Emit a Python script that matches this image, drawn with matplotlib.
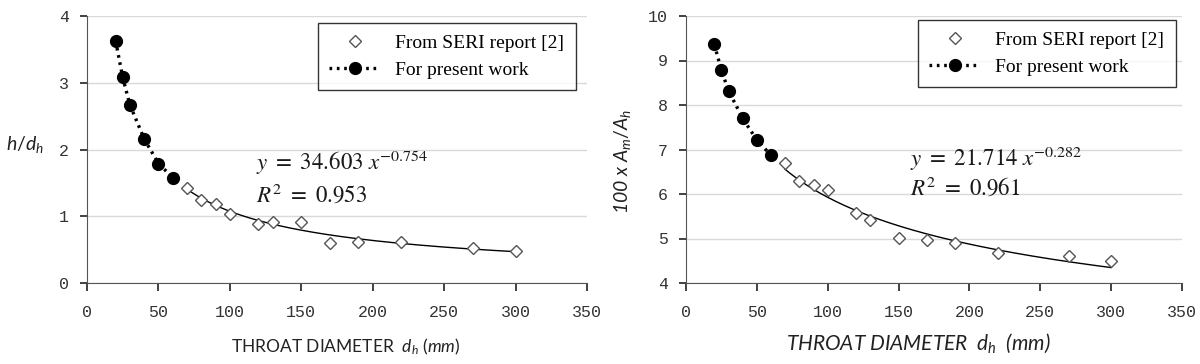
import numpy as np
import matplotlib
matplotlib.use("Agg")
import matplotlib.pyplot as plt

# ---- data ----
dh_present = [20, 25, 30, 40, 50, 60]
dh_seri = [70, 80, 90, 100, 120, 130, 150, 170, 190, 220, 270, 300]

h_present = [3.63, 3.08, 2.67, 2.16, 1.79, 1.58]
h_seri = [1.43, 1.25, 1.18, 1.03, 0.89, 0.92, 0.92, 0.60, 0.62, 0.62, 0.52, 0.48]

am_present = [9.36, 8.78, 8.32, 7.70, 7.21, 6.87]
am_seri = [6.70, 6.29, 6.21, 6.10, 5.58, 5.41, 5.01, 4.96, 4.91, 4.68, 4.61, 4.49]

# power-law trend lines as printed on the chart
h_fit = (34.603, -0.754, 0.953)
am_fit = (21.714, -0.282, 0.961)
fit_range = (70, 300)

# labels use a sans italic for d_h, the equations use a serif math font
plt.rcParams['mathtext.fontset'] = 'custom'
plt.rcParams['mathtext.it'] = 'Lato:italic'
plt.rcParams['mathtext.rm'] = 'Lato'

fig = plt.figure(figsize=(12, 3.64), dpi=100)
ax1 = fig.add_axes([87 / 1200, 81 / 364, 500 / 1200, 267 / 364])
ax2 = fig.add_axes([686 / 1200, 81 / 364, 496 / 1200, 267 / 364])


def draw_panel(ax, y_present, y_seri, fit, ylim, yticks, leg_anchor, eq_pos):
    a, b, r2 = fit
    xs = np.linspace(fit_range[0], fit_range[1], 200)
    ax.plot(xs, a * xs ** b, color='black', lw=1.0, zorder=2)
    ax.plot(dh_seri, y_seri, linestyle='none', marker='D', markersize=6.5,
            markerfacecolor='white', markeredgecolor='#555555',
            markeredgewidth=1.0, label='From SERI report [2]', zorder=3)
    ax.plot(dh_present, y_present, linestyle=(0, (0.8, 1.4)), lw=2.4,
            color='black', marker='o', markersize=8.5,
            label='For present work', zorder=4)

    ax.set_xlim(0, 350)
    ax.set_ylim(*ylim)
    ax.set_xticks(range(0, 351, 50))
    ax.set_yticks(yticks)
    for lab in ax.get_xticklabels() + ax.get_yticklabels():
        lab.set_fontfamily('Liberation Mono')
        lab.set_fontsize(12)
        lab.set_color('#333333')
    ax.grid(axis='y', color='#d9d9d9', lw=1.0)
    ax.set_axisbelow(True)
    for s in ['top', 'right']:
        ax.spines[s].set_visible(False)
    for s in ['left', 'bottom']:
        ax.spines[s].set_color('#555555')
    ax.tick_params(axis='x', direction='out', length=6, width=1.3,
                   color='#333333', pad=10)
    ax.tick_params(axis='y', direction='out', length=5, width=1.3,
                   color='#333333', pad=8)

    leg = ax.legend(loc='upper right', bbox_to_anchor=leg_anchor,
                    frameon=True, fancybox=False, edgecolor='black',
                    prop={'family': 'Liberation Serif', 'size': 14},
                    handlelength=2.6, borderpad=0.6, labelspacing=0.45,
                    handletextpad=0.8, borderaxespad=0)
    leg.get_frame().set_linewidth(1.0)

    ax.text(eq_pos[0], eq_pos[1],
            r'$y\ =\ %.3f\ x^{%.3f}$' % (a, b), fontsize=16.5,
            color='#1a1a1a', math_fontfamily='stix')
    ax.text(eq_pos[0], eq_pos[2],
            r'$R^2\ =\ %.3f$' % r2, fontsize=16.5,
            color='#1a1a1a', math_fontfamily='stix')


draw_panel(ax1, h_present, h_seri, h_fit, (0, 4), range(0, 5),
           (0.978, 0.974), (118, 1.70, 1.22))
draw_panel(ax2, am_present, am_seri, am_fit, (4, 10), range(4, 11),
           (0.988, 0.985), (158, 6.62, 5.98))

# axis labels
ax1.set_ylabel(r'$h/d_h$', rotation=0, fontsize=14, color='#222222')
ax1.yaxis.set_label_coords(-0.125, 0.48)
fig.text(346 / 1200, 0.033, r'THROAT DIAMETER  $d_h\ (mm)$', fontsize=12.5,
         family='Lato', color='#222222', ha='center')

ax2.set_ylabel(r'100 x $A_m/A_h$', fontsize=14, family='Lato',
               style='italic', color='#222222')
ax2.yaxis.set_label_coords(-0.107, 0.455)
fig.text(918 / 1200, 0.038, r'THROAT DIAMETER  $d_h$  (mm)', fontsize=15,
         family='Lato', style='italic', color='#222222', ha='center')

fig.savefig('out.png', dpi=100)
